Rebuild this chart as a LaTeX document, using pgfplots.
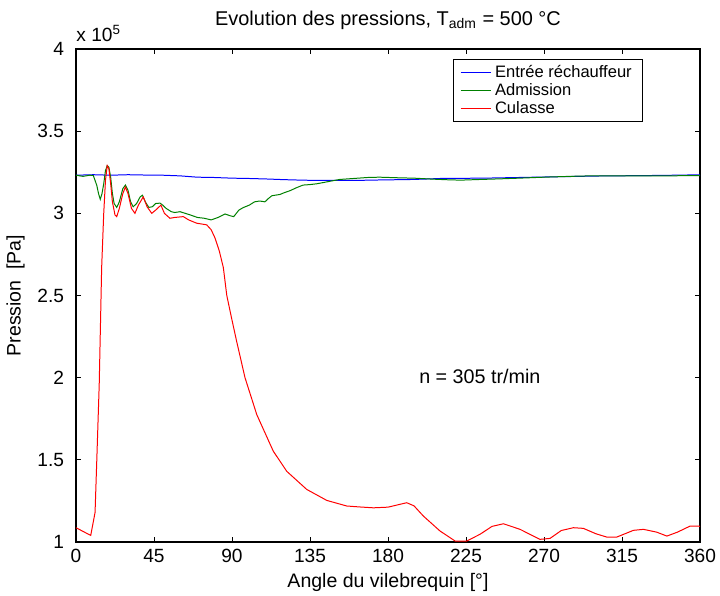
\documentclass[border=0pt]{standalone}
\usepackage{fontspec}
\setmainfont{Liberation Sans}
\usepackage{pgfplots}
\pgfplotsset{compat=1.18}

\definecolor{mblue}{RGB}{0,0,255}
\definecolor{mgreen}{RGB}{0,128,0}
\definecolor{mred}{RGB}{255,0,0}

\begin{document}
\begin{tikzpicture}
% page = 720x596 px at 2 px per bp
\useasboundingbox (-38bp,-27bp) rectangle (322bp,271bp);
\begin{axis}[
    at={(0,0)}, anchor=south west,
    scale only axis,
    width=312bp, height=246.5bp,
    xmin=0, xmax=360, ymin=1, ymax=4,
    clip=false,
    xtick={0,45,...,360},
    ytick={1,1.5,...,4},
    tick align=inside,
    major tick length=2.5bp,
    axis line style={line width=0.8pt},
    every tick/.style={black, line width=0.5pt},
    /pgf/number format/assume math mode=true,
    ticklabel style={font=\fontsize{9.6}{11}\selectfont},
    yticklabel style={/pgf/number format/fixed, xshift=-2.5bp},
    xlabel={Angle du vilebrequin [°]},
    ylabel={Pression\ \ [Pa]},
    label style={font=\fontsize{9.8}{11}\selectfont},
    xlabel style={yshift=1.5bp},
    ylabel style={yshift=-0.5bp},
    title={Evolution des pressions, T\textsubscript{adm} = 500 °C},
    title style={font=\fontsize{10}{12}\selectfont, yshift=0.3bp},
    legend style={at={(0.909,0.98)}, anchor=north east,
        font=\fontsize{8.3}{9.5}\selectfont, draw=black, line width=0.5pt,
        cells={anchor=west}, row sep=-2.5bp, inner xsep=3.5bp, inner ysep=0.8bp},
    legend image code/.code={\draw[#1] (0bp,0bp) -- (15bp,0bp);},
]
\addplot[mblue, line width=0.5pt] coordinates {
(0,3.232) (10,3.235) (20,3.232) (30,3.235) (40,3.233) (50,3.232) (60,3.228)
(70,3.220) (80,3.218) (90,3.214) (100,3.212) (110,3.209) (120,3.205) (130,3.202)
(140,3.200) (150,3.200) (160,3.200) (170,3.202) (180,3.204) (190,3.205) (200,3.208)
(210,3.212) (220,3.212) (230,3.214) (240,3.215) (250,3.217) (260,3.219) (270,3.221)
(280,3.223) (290,3.225) (300,3.227) (310,3.228) (320,3.229) (330,3.230) (340,3.231)
(350,3.233) (360,3.234)
};
\addplot[mgreen, line width=0.5pt] coordinates {
(0,3.232) (4,3.225) (8,3.232) (10,3.23) (12,3.17) (13,3.12) (14,3.085) (15,3.12)
(16,3.18) (17,3.26) (18,3.29) (19,3.28) (20,3.22) (21,3.12) (22,3.06) (23.5,3.036)
(25,3.07) (27,3.15) (28.5,3.172) (30,3.14) (31.5,3.07) (33,3.04) (35,3.06) (37,3.10)
(38.3,3.11) (40,3.07) (42,3.036) (44,3.04) (46,3.06) (48.5,3.062) (50,3.05) (52,3.03)
(55,3.01) (57,3.005) (60,3.01) (63,3.0) (66,2.99) (70,2.975) (74,2.97) (78,2.96)
(82,2.975) (86,2.996) (89,2.985) (91,2.98) (94,3.02) (96.5,3.035) (100,3.05)
(103,3.07) (106,3.075) (109,3.07) (111,3.09) (113,3.107) (117.7,3.115) (120,3.125)
(123.5,3.138) (127,3.155) (131,3.172) (135,3.175) (139,3.18) (145,3.192) (152,3.206)
(160,3.212) (168,3.218) (175,3.22) (187,3.216) (195,3.214) (206,3.208) (215,3.204)
(222,3.202) (230,3.205) (245,3.21) (258,3.215) (270,3.22) (285,3.225) (297,3.228)
(310,3.228) (325,3.228) (340,3.228) (350,3.229) (360,3.23)
};
\addplot[mred, line width=0.5pt] coordinates {
(0,1.087) (8.5,1.04) (11,1.18) (12,1.5) (13.4,1.96) (14.8,2.67) (16,3.0) (17,3.2)
(18,3.29) (19,3.27) (20,3.18) (21,3.07) (22.5,2.99) (23.5,2.98) (25,3.03) (27,3.12)
(28.5,3.16) (30,3.12) (32,3.03) (34,3.0) (36,3.05) (38.8,3.10) (41,3.04) (43.7,3.0)
(46,3.02) (49,3.05) (51,3.0) (54.2,2.97) (57,2.975) (61.9,2.98) (65,2.96) (69.6,2.94)
(75.4,2.93) (78,2.90) (80.2,2.85) (82.7,2.77) (85,2.67) (87,2.50) (89.8,2.36)
(92.7,2.22) (97.5,2.0) (104.3,1.775) (113.8,1.553) (121.6,1.43) (133.1,1.32)
(144.7,1.253) (156.2,1.219) (164,1.213) (171.6,1.208) (180,1.212) (190.8,1.239)
(195,1.22) (200.4,1.158) (210,1.067) (218.7,1.006) (225.4,1.006) (233.1,1.047)
(240,1.095) (246.6,1.111) (256.2,1.077) (267.7,1.016) (273.5,1.022) (280,1.07)
(287,1.087) (292.7,1.083) (300,1.05) (306.2,1.03) (312,1.03) (321.6,1.071)
(327.4,1.077) (335,1.06) (340.9,1.036) (347,1.06) (354.3,1.097) (359,1.097) (360,1.095)
};
\legend{Entrée réchauffeur, Admission, Culasse}
\node[font=\fontsize{9.9}{11}\selectfont] at (axis cs:233,2.01) {n = 305 tr/min};
\node[anchor=base west, font=\fontsize{9.6}{11}\selectfont, inner sep=0pt,
    yshift=3.6bp] at (rel axis cs:0,1) {x 10\textsuperscript{5}};
\end{axis}
\end{tikzpicture}
\end{document}
